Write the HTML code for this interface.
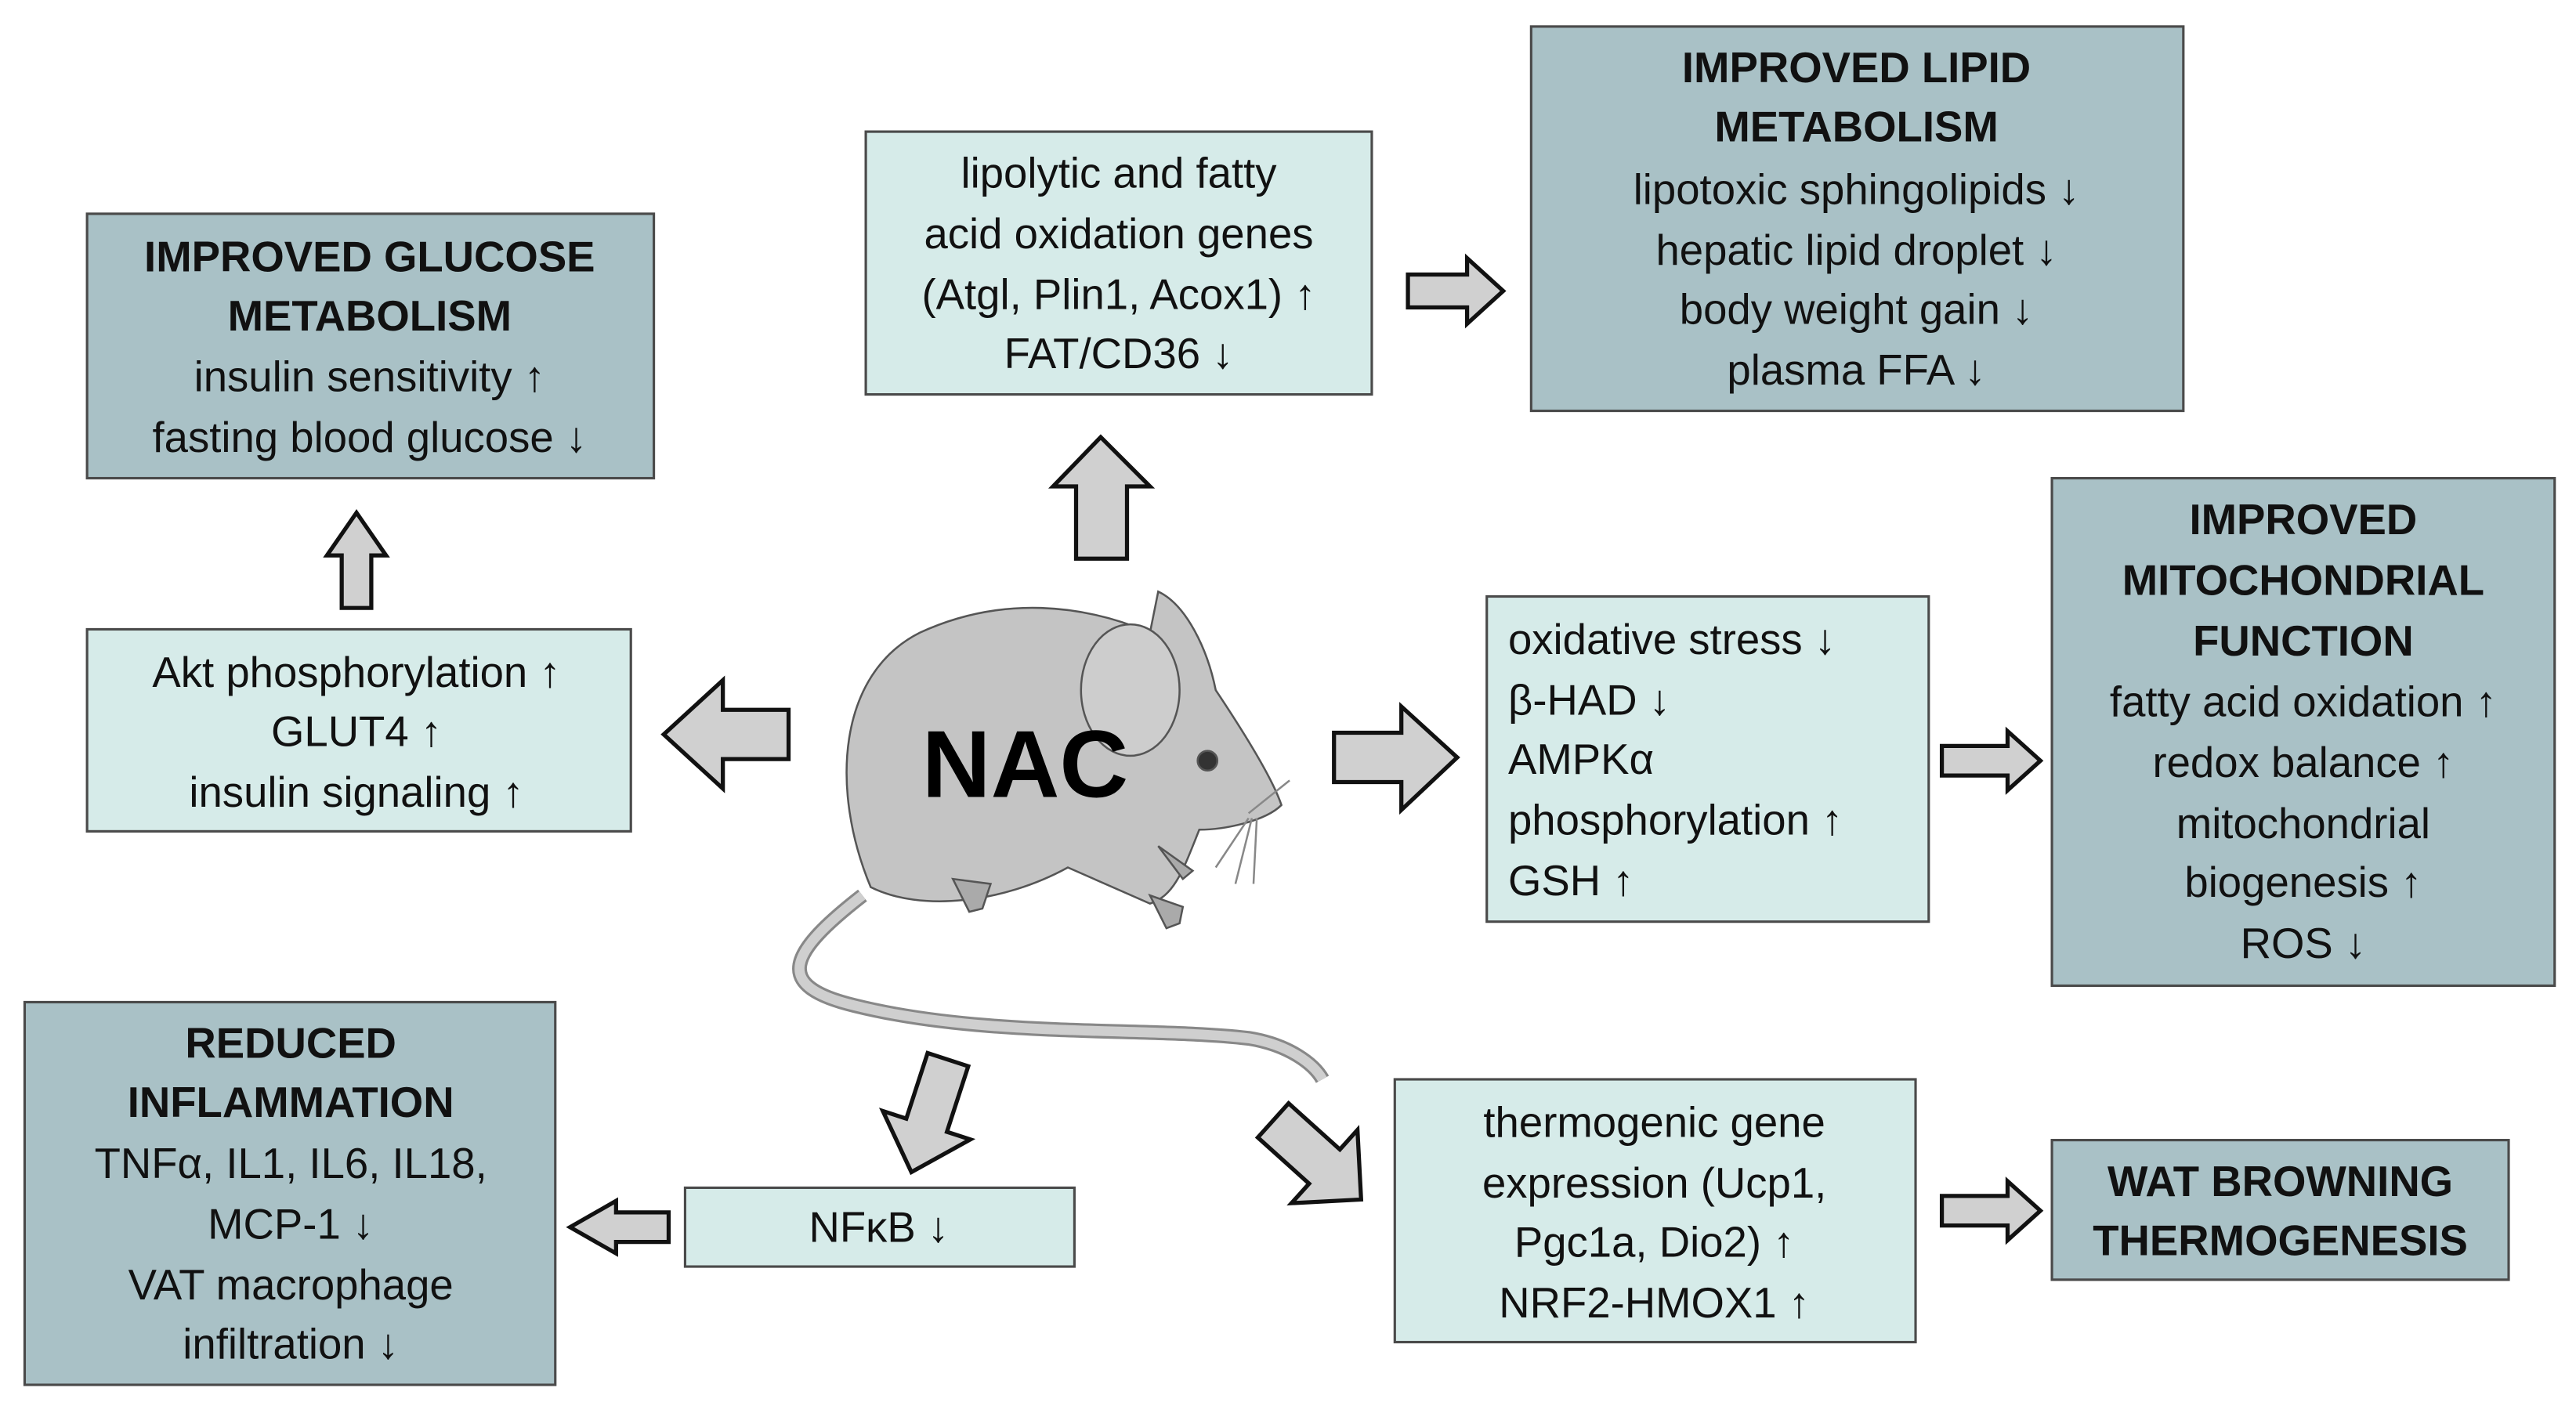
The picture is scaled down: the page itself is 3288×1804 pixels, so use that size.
<!DOCTYPE html>
<html><head><meta charset="utf-8"><style>
html,body{margin:0;padding:0;background:#fff;width:3288px;height:1804px;overflow:hidden}
svg{display:block}
text{font-family:"Liberation Sans","DejaVu Sans",sans-serif;font-size:26px;fill:#111}
.b{font-weight:bold}
.d{fill:#a9c1c6;stroke:#4a4a4a;stroke-width:1.5}
.l{fill:#d6ebe9;stroke:#4a4a4a;stroke-width:1.5}
.a{fill:#d0d0d0;stroke:#111;stroke-width:2.5;stroke-linejoin:miter}
</style></head><body>
<svg width="3288" height="1804" viewBox="0 0 1568 860" xmlns="http://www.w3.org/2000/svg">
<rect class="d" x="53" y="130" width="345" height="161"/>
<rect class="l" x="527" y="80" width="308" height="160"/>
<rect class="d" x="932" y="16" width="397" height="234"/>
<rect class="l" x="53" y="383" width="331" height="123"/>
<rect class="l" x="905" y="363" width="269" height="198"/>
<rect class="d" x="1249" y="291" width="306" height="309"/>
<rect class="d" x="15" y="610" width="323" height="233"/>
<rect class="l" x="417" y="723" width="237" height="48"/>
<rect class="l" x="849" y="657" width="317" height="160"/>
<rect class="d" x="1249" y="694" width="278" height="85"/>

<g text-anchor="middle">
<text x="225" y="165" class="b">IMPROVED GLUCOSE</text>
<text x="225" y="201" class="b">METABOLISM</text>
<text x="225" y="238">insulin sensitivity ↑</text>
<text x="225" y="275">fasting blood glucose ↓</text>

<text x="681" y="114">lipolytic and fatty</text>
<text x="681" y="151">acid oxidation genes</text>
<text x="681" y="188">(Atgl, Plin1, Acox1) ↑</text>
<text x="681" y="224">FAT/CD36 ↓</text>

<text x="1130" y="50" class="b">IMPROVED LIPID</text>
<text x="1130" y="86" class="b">METABOLISM</text>
<text x="1130" y="124">lipotoxic sphingolipids ↓</text>
<text x="1130" y="161">hepatic lipid droplet ↓</text>
<text x="1130" y="197">body weight gain ↓</text>
<text x="1130" y="234">plasma FFA ↓</text>

<text x="217" y="418">Akt phosphorylation ↑</text>
<text x="217" y="454">GLUT4 ↑</text>
<text x="217" y="491">insulin signaling ↑</text>

<text x="1402" y="325" class="b">IMPROVED</text>
<text x="1402" y="362" class="b">MITOCHONDRIAL</text>
<text x="1402" y="399" class="b">FUNCTION</text>
<text x="1402" y="436">fatty acid oxidation ↑</text>
<text x="1402" y="473">redox balance ↑</text>
<text x="1402" y="510">mitochondrial</text>
<text x="1402" y="546">biogenesis ↑</text>
<text x="1402" y="583">ROS ↓</text>

<text x="177" y="644" class="b">REDUCED</text>
<text x="177" y="680" class="b">INFLAMMATION</text>
<text x="177" y="717">TNFα, IL1, IL6, IL18,</text>
<text x="177" y="754">MCP-1 ↓</text>
<text x="177" y="791">VAT macrophage</text>
<text x="177" y="827">infiltration ↓</text>

<text x="535" y="756">NFκB ↓</text>

<text x="1007" y="692">thermogenic gene</text>
<text x="1007" y="729">expression (Ucp1,</text>
<text x="1007" y="765">Pgc1a, Dio2) ↑</text>
<text x="1007" y="802">NRF2-HMOX1 ↑</text>

<text x="1388" y="728" class="b">WAT BROWNING</text>
<text x="1388" y="764" class="b">THERMOGENESIS</text>
</g>
<g>
<text x="918" y="398">oxidative stress ↓</text>
<text x="918" y="435">β-HAD  ↓</text>
<text x="918" y="471">AMPKα</text>
<text x="918" y="508">phosphorylation ↑</text>
<text x="918" y="545">GSH ↑</text>
</g>

<!-- mouse -->
<g stroke="#555" stroke-width="1.2">
<path d="M525,545 C480,580 470,600 520,612 C600,632 700,625 760,632 C785,636 800,648 805,657" fill="none" stroke="#888" stroke-width="9"/>
<path d="M525,545 C480,580 470,600 520,612 C600,632 700,625 760,632 C785,636 800,648 805,657" fill="none" stroke="#cfcfcf" stroke-width="6"/>
<path d="M530,540 C505,480 510,410 560,385 C610,362 660,368 700,385 L705,360 C722,368 735,395 740,420 C760,450 775,475 780,490 C770,500 745,505 730,505 C720,530 715,545 700,550 L650,528 C610,550 560,555 530,540 Z" fill="#c4c4c4"/>
<ellipse cx="688" cy="420" rx="30" ry="40" fill="#cdcdcd"/>
<circle cx="735" cy="463" r="6" fill="#333"/>
<path d="M580,535 l10,20 l8,-2 l5,-15 z M700,545 l10,20 l8,-3 l2,-10 z M705,515 l15,20 l6,-5 z" fill="#aaa"/>
<path d="M760,495 l25,-20 M760,498 l-20,30 M762,498 l-10,40 M765,498 l-2,40" stroke="#888" fill="none"/>
</g>
<text x="624" y="485" text-anchor="middle" class="b" style="font-size:58px;fill:#000">NAC</text>

<!-- arrows -->
<polygon class="a" points="208,370 208,338 199,338 217,312 235,338 226,338 226,370"/>
<polygon class="a" points="655,340 655,296 641,296 670,266 700,296 686,296 686,340"/>
<polygon class="a" points="480,432 440,432 440,414 404,447 440,480 440,462 480,462"/>
<polygon class="a" points="857,167 893,167 893,157 915,177 893,197 893,187 857,187"/>
<polygon class="a" points="812,446 853,446 853,430 887,461 853,493 853,476 812,476"/>
<polygon class="a" points="1182,454 1222,454 1222,445 1242,463 1222,481 1222,472 1182,472"/>
<polygon class="a" points="1182,728 1222,728 1222,719 1242,737 1222,755 1222,746 1182,746"/>
<polygon class="a" points="407,738 375,738 375,731 347,747 375,763 375,756 407,756"/>
<polygon class="a" transform="translate(577,645) rotate(108)" points="0,-13 42,-13 42,-28 72,0 42,28 42,13 0,13"/>
<polygon class="a" transform="translate(775,682) rotate(42)" points="0,-14 42,-14 42,-30 72,0 42,30 42,14 0,14"/>
</svg>
</body></html>
